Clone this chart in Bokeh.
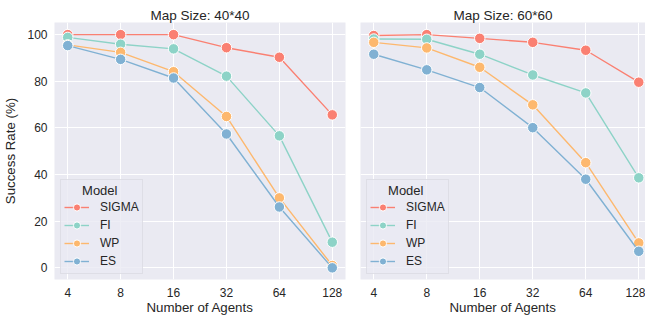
from bokeh.plotting import figure
from bokeh.layouts import row
from bokeh.models import FixedTicker, Range1d
from bokeh.embed import file_html
from bokeh.resources import INLINE

agents = [4, 8, 16, 32, 64, 128]
models = ["SIGMA", "FI", "WP", "ES"]
colors = ["#FA8072", "#8DD3C7", "#FDB86E", "#80B1D3"]

# Map Size 40*40
sigma_40 = [100.0, 100.0, 100.0, 94.4, 90.3, 65.6]
fi_40 = [98.8, 95.9, 93.9, 82.2, 56.6, 11.0]
wp_40 = [95.6, 92.4, 84.1, 64.9, 30.0, 1.0]
es_40 = [95.3, 89.4, 81.4, 57.4, 26.1, 0.0]

# Map Size 60*60
sigma_60 = [99.6, 100.0, 98.4, 96.7, 93.3, 79.6]
fi_60 = [98.1, 98.0, 91.6, 82.7, 75.0, 38.6]
wp_60 = [96.7, 94.3, 86.0, 69.9, 45.1, 10.7]
es_60 = [91.6, 84.9, 77.3, 60.1, 38.0, 7.1]

titles = ["Map Size: 40*40", "Map Size: 60*60"]
y_ticks = [0, 20, 40, 60, 80, 100]

TXT = "#262626"
FONT = "Liberation Sans"


def make(title, series, left):
    p = figure(
        x_axis_type="log",
        output_backend="svg",
        toolbar_location=None,
        frame_width=291 if left else 285,
        frame_height=257,
        min_border_left=50 if left else 8,
        min_border_right=7 if left else 0,
        min_border_top=22,
        min_border_bottom=37,
        x_range=Range1d(2 ** 1.75, 2 ** 7.25 if left else 2 ** 7.127),
        y_range=Range1d(-5, 105.2),
        background_fill_color="#EAEAF2",
        border_fill_color="white",
        outline_line_color=None,
    )
    p.title.text = title
    p.title.align = "center"
    p.title.text_font = FONT
    p.title.text_font_size = "13.5px"
    p.title.text_font_style = "normal"
    p.title.text_color = TXT
    p.title.standoff = 0
    p.title.offset = 0

    for name, col, vals in zip(models, colors, series):
        p.line(agents, vals, line_color=col, line_width=1.4, legend_label=name)
        p.scatter(agents, vals, size=10.5, fill_color=col, line_color="white",
                  line_width=1, legend_label=name)

    p.xaxis.ticker = FixedTicker(ticks=agents)
    p.xaxis.major_label_overrides = {a: str(a) for a in agents}
    p.yaxis.ticker = FixedTicker(ticks=y_ticks)
    for ax in p.xaxis + p.yaxis:
        ax.axis_line_color = None
        ax.major_tick_line_color = None
        ax.minor_tick_line_color = None
        ax.major_tick_out = 0
        ax.major_tick_in = 0
        ax.minor_tick_out = 0
        ax.minor_tick_in = 0
        ax.major_label_text_font = FONT
        ax.major_label_text_font_size = "12px"
        ax.major_label_text_color = TXT
        ax.axis_label_text_font = FONT
        ax.axis_label_text_font_size = "13.3px"
        ax.axis_label_text_font_style = "normal"
        ax.axis_label_text_color = TXT
    p.xaxis.axis_label = "Number of Agents"
    p.xaxis.major_label_standoff = 8
    p.xaxis.axis_label_standoff = 0
    if left:
        p.yaxis.axis_label = "Success Rate (%)"
        p.yaxis.major_label_standoff = 7
        p.yaxis.axis_label_standoff = 6
    else:
        p.yaxis.visible = False
    p.xgrid.grid_line_color = "white"
    p.ygrid.grid_line_color = "white"
    p.xgrid.grid_line_width = 1
    p.ygrid.grid_line_width = 1
    p.xgrid.minor_grid_line_color = None

    lg = p.legend[0]
    lg.location = (6, 5)
    lg.title = "\u00a0\u00a0\u00a0\u00a0\u00a0Model"
    lg.title_text_font = FONT
    lg.title_text_font_size = "13px"
    lg.title_text_font_style = "normal"
    lg.title_text_color = TXT
    lg.title_standoff = 0
    lg.label_text_font = FONT
    lg.label_text_font_size = "12px"
    lg.label_text_color = TXT
    lg.glyph_width = 25
    lg.glyph_height = 18
    lg.label_height = 18
    lg.spacing = 0
    lg.label_standoff = 11
    lg.padding = 3
    lg.margin = 0
    lg.background_fill_color = "#EAEAF2"
    lg.background_fill_alpha = 0.8
    lg.border_line_color = "#D2D2DA"
    lg.border_line_width = 1
    return p


p1 = make(titles[0], [sigma_40, fi_40, wp_40, es_40], True)
p2 = make(titles[1], [sigma_60, fi_60, wp_60, es_60], False)
p = row(p1, p2)

open("out.html", "w").write(file_html(p, INLINE))
